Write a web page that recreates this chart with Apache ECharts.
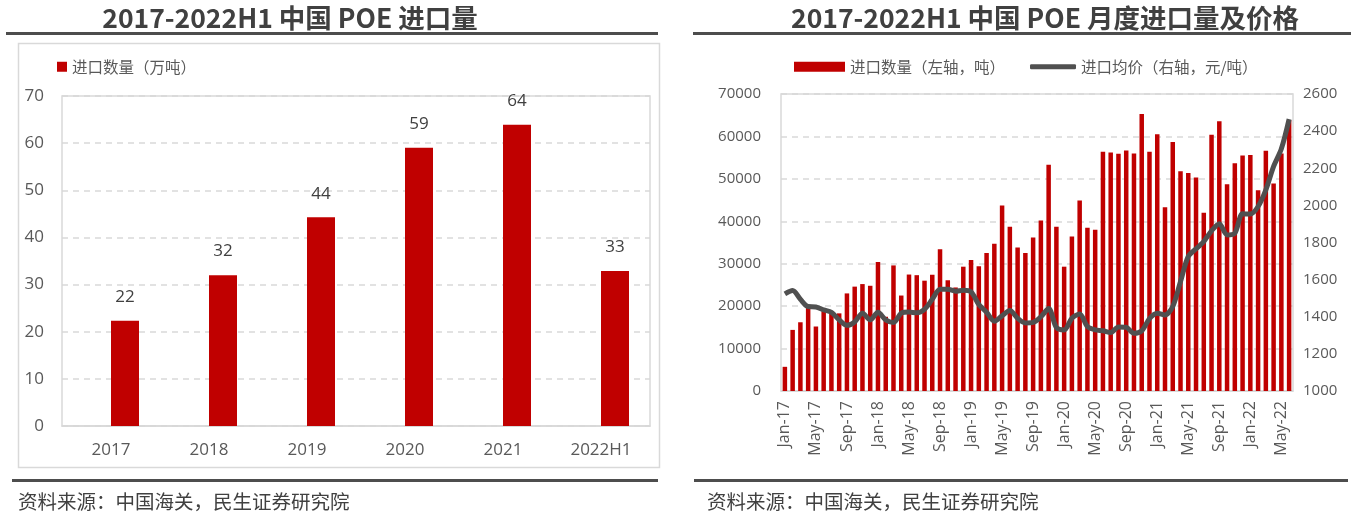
<!DOCTYPE html>
<html>
<head>
<meta charset="utf-8">
<script src="https://cdn.jsdelivr.net/npm/echarts@6/dist/echarts.min.js"></script>
<style>
  html, body { margin: 0; padding: 0; background: #fff; }
  #main { width: 1357px; height: 519px; }
</style>
</head>
<body>
<div id="main"></div>
<script>
// 年度进口量（万吨）
const years = ['2017', '2018', '2019', '2020', '2021', '2022H1']
const annualImport = [22.3, 32.0, 44.3, 59.0, 63.9, 32.9]

// 月度进口量（吨）与进口均价（元/吨），2017-01 ~ 2022-06
const monthNames = ['Jan', 'Feb', 'Mar', 'Apr', 'May', 'Jun', 'Jul', 'Aug', 'Sep', 'Oct', 'Nov', 'Dec']
const monthYears = ['17', '18', '19', '20', '21', '22']
const months = []
monthYears.forEach(y => monthNames.forEach((m, i) => {
  if (y !== '22' || i < 6) months.push(m + '-' + y)
}))

const monthlyImport = [
  5700, 14400, 16200, 19600, 15200, 18800, 18300, 18300, 23000, 24600, 25200, 24800,
  30400, 17500, 29600, 22500, 27450, 27300, 26000, 27400, 33400, 26100, 24400, 29300,
  30900, 29400, 32500, 34700, 43700, 38700, 33800, 32500, 36200, 40200, 53300, 38700,
  29300, 36400, 44900, 38500, 38000, 56400, 56200, 55900, 56700, 56000, 65300, 56400,
  60500, 43300, 58700, 51800, 51400, 50300, 42000, 60400, 63600, 48700, 53700, 55500,
  55600, 47300, 56600, 48900, 56000, 63800
]
const monthlyPrice = [
  1523, 1541, 1494, 1455, 1453, 1437, 1424, 1383, 1354, 1372, 1419, 1383,
  1424, 1383, 1369, 1419, 1425, 1422, 1440, 1494, 1548, 1548, 1538, 1543,
  1534, 1466, 1424, 1376, 1405, 1433, 1392, 1367, 1370, 1400, 1444, 1342,
  1329, 1392, 1415, 1347, 1329, 1325, 1315, 1345, 1343, 1311, 1324, 1390,
  1419, 1410, 1455, 1590, 1725, 1766, 1805, 1863, 1901, 1841, 1850, 1955,
  1953, 1994, 2084, 2210, 2305, 2465
]

const RED = '#c00000'
const DARK = '#505050'
const GRID_LINE = '#d9d9d9'
const LABEL = '#595959'
const TITLE_FONT = "bold 26.5px 'Noto Sans CJK SC'"
const SOURCE_FONT = "19.5px 'Noto Sans CJK SC'"
const SOURCE = '资料来源：中国海关，民生证券研究院'
const legendText = { fontSize: 15.5, color: LABEL, fontFamily: 'Noto Sans CJK SC' }

const chart = echarts.init(document.getElementById('main'))

chart.setOption({
  animation: false,
  textStyle: { fontFamily: "'Open Sans', 'Noto Sans CJK SC', sans-serif" },
  graphic: [
    // 标题、分隔线、来源
    { type: 'text', style: { x: 290, y: 18, text: '2017-2022H1 中国 POE 进口量', font: TITLE_FONT, fill: '#404040', textAlign: 'center', textVerticalAlign: 'middle' } },
    { type: 'text', style: { x: 1045, y: 18, text: '2017-2022H1 中国 POE 月度进口量及价格', font: TITLE_FONT, fill: '#404040', textAlign: 'center', textVerticalAlign: 'middle' } },
    { type: 'rect', shape: { x: 6, y: 32, width: 652, height: 3 }, style: { fill: '#4d4d4d' } },
    { type: 'rect', shape: { x: 693, y: 32, width: 658, height: 3 }, style: { fill: '#4d4d4d' } },
    { type: 'rect', shape: { x: 18.5, y: 43.5, width: 641, height: 424 }, style: { fill: 'none', stroke: GRID_LINE, lineWidth: 1.5 } },
    { type: 'rect', shape: { x: 12, y: 479, width: 646, height: 3 }, style: { fill: '#4d4d4d' } },
    { type: 'rect', shape: { x: 694, y: 479, width: 654, height: 3 }, style: { fill: '#4d4d4d' } },
    { type: 'text', style: { x: 18, y: 502, text: SOURCE, font: SOURCE_FONT, fill: '#404040', textVerticalAlign: 'middle' } },
    { type: 'text', style: { x: 707, y: 502, text: SOURCE, font: SOURCE_FONT, fill: '#404040', textVerticalAlign: 'middle' } }
  ],
  legend: [
    {
      left: 57, top: 59, padding: 0, itemWidth: 10, itemHeight: 10,
      data: [{ name: '进口数量（万吨）', icon: 'rect' }],
      textStyle: legendText
    },
    {
      left: 794, top: 59, padding: 0, itemWidth: 51, itemHeight: 10,
      data: [{ name: '进口数量（左轴，吨）', icon: 'rect' }],
      textStyle: legendText
    },
    {
      left: 1030, top: 59, padding: 0, itemWidth: 46, itemHeight: 5,
      data: [{ name: '进口均价（右轴，元/吨）', icon: 'roundRect' }],
      textStyle: legendText
    }
  ],
  grid: [
    { left: 62, top: 96, width: 588, height: 330, show: true, borderColor: GRID_LINE, borderWidth: 1.5 },
    { left: 781, top: 94, width: 512, height: 297, show: true, borderColor: GRID_LINE, borderWidth: 1.5 }
  ],
  xAxis: [
    {
      gridIndex: 0, type: 'category', data: years,
      axisLine: { lineStyle: { color: GRID_LINE, width: 1.5 } },
      axisTick: { show: false },
      axisLabel: { fontSize: 17, color: LABEL, margin: 16 }
    },
    {
      gridIndex: 1, type: 'category', data: months,
      axisLine: { lineStyle: { color: GRID_LINE, width: 1.5 } },
      axisTick: { interval: 3, length: 5, lineStyle: { color: GRID_LINE } },
      axisLabel: { interval: 3, rotate: 90, fontSize: 16, color: LABEL, margin: 10 }
    }
  ],
  yAxis: [
    {
      gridIndex: 0, type: 'value', min: 0, max: 70, interval: 10,
      axisLabel: { fontSize: 17, color: LABEL, margin: 18 },
      splitLine: { lineStyle: { color: GRID_LINE, type: [6, 5], width: 1.5 } }
    },
    {
      gridIndex: 1, type: 'value', min: 0, max: 70000, interval: 10000,
      axisLabel: { fontSize: 15, color: LABEL, margin: 20, formatter: v => String(v) },
      splitLine: { lineStyle: { color: GRID_LINE, type: [6, 5], width: 1.5 } }
    },
    {
      gridIndex: 1, type: 'value', position: 'right', min: 1000, max: 2600, interval: 200,
      axisLabel: { fontSize: 15, color: LABEL, margin: 10, formatter: v => String(v) },
      splitLine: { show: false }
    }
  ],
  series: [
    // 占位系列，让柱子偏向类目右侧
    { type: 'bar', name: 'pad', xAxisIndex: 0, yAxisIndex: 0, data: [], barWidth: 28, barGap: '0%' },
    {
      type: 'bar', name: '进口数量（万吨）', xAxisIndex: 0, yAxisIndex: 0,
      data: annualImport, barWidth: 28, barGap: '0%',
      itemStyle: { color: RED },
      label: { show: true, position: 'top', distance: 15, fontSize: 17, color: '#404040', formatter: p => Math.round(p.value) }
    },
    {
      type: 'bar', name: '进口数量（左轴，吨）', xAxisIndex: 1, yAxisIndex: 1,
      data: monthlyImport, barWidth: '58%',
      itemStyle: { color: RED }
    },
    {
      type: 'line', name: '进口均价（右轴，元/吨）', xAxisIndex: 1, yAxisIndex: 2,
      data: monthlyPrice, smooth: 0.3, symbol: 'none', z: 3,
      lineStyle: { width: 5, color: DARK }, itemStyle: { color: DARK }
    }
  ]
})
</script>
</body>
</html>
